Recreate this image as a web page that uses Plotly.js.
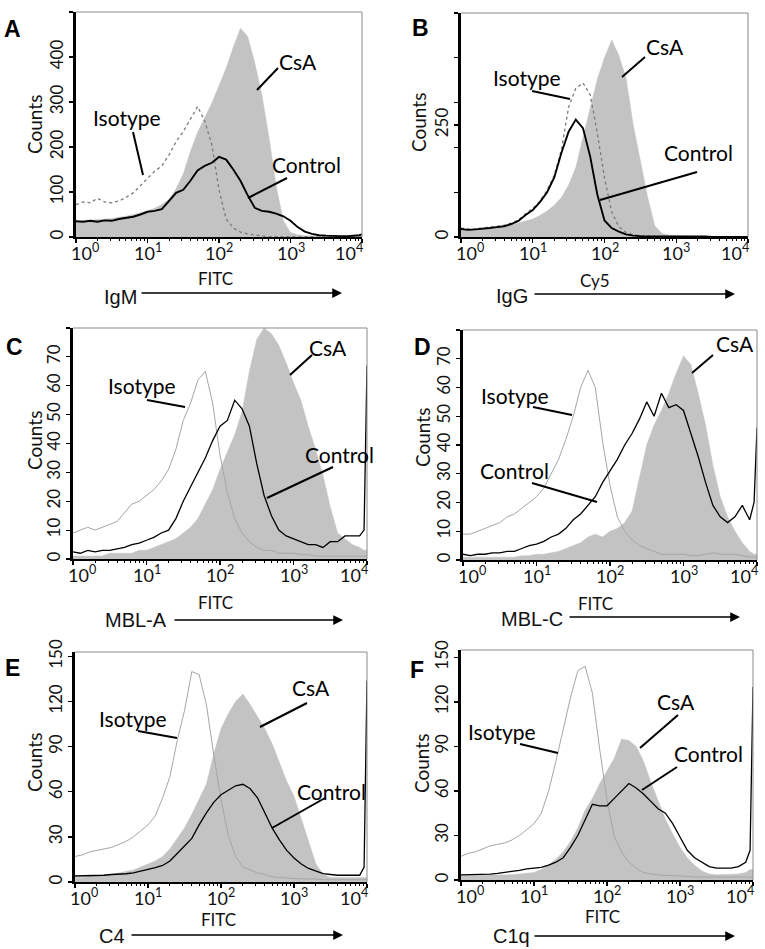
<!DOCTYPE html>
<html><head><meta charset="utf-8">
<script src="https://cdn.plot.ly/plotly-3.0.1.min.js"></script>
<style>html,body{margin:0;padding:0;background:#fff}#chart{width:765px;height:949px}</style>
</head><body><div id="chart"></div>
<script>
// log10 of fluorescence channel (x positions of histogram samples)
const channelLog = [0.0,0.1,0.2,0.3,0.4,0.5,0.6,0.7,0.8,0.9,1.0,1.1,1.2,1.3,1.4,1.5,1.6,1.7,1.8,1.9,2.0,2.1,2.2,2.3,2.4,2.5,2.6,2.7,2.8,2.9,3.0,3.1,3.2,3.3,3.4,3.5,3.6,3.7,3.8,3.9,3.96,4.0];

// Panel A  IgM (FITC)
const isoA  = [72,78,76,86,78,76,80,88,98,115,130,146,158,182,212,234,262,290,258,205,105,40,20,11,7,4,2,1,1,1,1,1,1,1,0,0,0,0,0,0,0,0];
const ctrlA = [35,34,36,34,37,36,40,42,45,50,56,58,62,80,98,105,125,148,158,165,178,172,150,125,93,65,58,56,52,46,36,22,12,7,4,3,2,2,2,3,4,6];
const csaA  = [35,36,37,38,40,41,44,46,50,54,58,64,72,83,107,140,190,232,264,298,336,375,422,464,446,387,315,220,113,36,10,5,3,2,2,1,1,1,1,1,1,1];
// Panel B  IgG (Cy5)
const isoB  = [20,18,18,20,22,24,26,31,38,52,64,80,104,138,195,290,332,344,318,232,132,56,23,10,5,3,2,2,1,1,1,1,1,1,1,1,1,1,1,1,1,1];
const ctrlB = [18,16,17,18,20,22,24,29,36,49,60,78,100,133,188,235,262,243,180,95,37,20,12,6,3,2,2,2,1,1,1,1,1,1,1,0,0,0,0,0,0,0];
const csaB  = [15,15,16,17,19,21,24,27,31,35,40,48,58,71,88,116,155,222,285,352,400,440,405,355,250,170,90,25,8,4,3,2,2,1,1,1,1,1,1,1,1,1];
// Panel C  MBL-A (FITC)
const isoC  = [9,10,11,10,11,12,13,16,19,20,22,24,27,31,38,48,54,62,65,54,36,23,14,9,6,4,3,3,2,2,2,1.5,1.5,1,1,1,1,1,1,1,1,1];
const ctrlC = [2.5,2,3,2.5,3,3,3.5,4,5,5.5,6.5,7.5,9,10,14,20,25,30,35,41,46,48,55,52,46,33,22,15,10,8,7,6,5,5,4,6,6,8,8,8,10,67];
const csaC  = [1,1,1,1,1,2,2,2,2,3,3,4,5,6,7,9,11,14,19,24,31,37,43,51,65,76,80,78,74,68,61,55,46,38,29,18,9,7,5,4,3,3];
// Panel D  MBL-C (FITC)
const isoD  = [9,9,10,11,12,13,15,16,18,20,22,25,30,35,42,50,60,66,60,41,26,15,10,7,5,4,3,2,2,2,2,1.5,1.5,2,2.5,2,2,2,1.5,1,1,1];
const ctrlD = [2,1.5,2,2,2.5,2.5,3,3,4,5,5.5,6.5,8,9,11,14,16,19,22,27,31,35,40,44,49,55,50,58,53,54,52,44,36,27,19,15,13,15,19,14,20,46];
const csaD  = [1,1,1,1,1,1,1,1,1.5,1.5,2,2,2.5,3,4,5,6,8,9,8,10,11,13,17,29,40,47,52,58,65,71,68,58,47,33,22,15,10,6,3,2,2];
// Panel E  C4 (FITC)
const isoE  = [17,18,20,21,22,23,25,27,30,34,38,44,56,70,94,114,140,138,118,85,55,31,17,10,8,6,5,3.5,3,2.5,2,2,2,2,1.5,1.5,1.5,1.5,1.5,1.5,1.5,1.5];
const ctrlE = [4,4,4,4.5,4.5,5,5,5.5,6,7,8,9.5,11,14,19,24,29,38,46,53,58,61,64,65,62,56,46,36,28,21,16,12,9,7,5.5,5,4.5,4.5,4.5,4.5,10,134];
const csaE  = [3,3,4,4,5,5,6,7,8,10,12,14,17,22,29,36,45,55,65,85,102,112,120,125,118,110,102,92,80,67,57,42,28,12,5,3,3,3,3,3,3,3];
// Panel F  C1q (FITC)
const isoF  = [16,18,19,21,23,24,25,27,30,34,38,45,60,80,101,123,141,144,126,88,54,29,19,12,8,5,4,3.5,3,3,2.5,2.5,2,2,2,2,2,2,2,2,2,2];
const ctrlF = [3.5,3.5,3.5,3.5,4,4.5,5,5.5,6.5,7.5,8,8.5,10,12,15,22,30,41,51,50,50,55,60,65,62,58,53,48,45,38,29,20,15,12,9,8,8,8,9,12,20,130];
const csaF  = [3,3,3,3,3.5,3.5,3.5,3.5,4,4.5,5,7,10,14,19,26,35,47,55,65,74,82,95,94,90,80,66,53,41,31,22,15,10,6,4,3.5,3.5,3.5,4,5,7,7];

const panelLetters = ['A','B','C','D','E','F'];
const markerNames  = ['IgM','IgG','MBL-A','MBL-C','C4','C1q'];
const channelNames = ['FITC','Cy5','FITC','FITC','FITC','FITC'];
const seriesNames  = ['Isotype','Control','CsA'];
const xTickVals = [1,10,100,1000,10000];
const xTickExp  = ['0','1','2','3','4'];
const yMax      = [500,500,80,80,153,155];
const yTicks    = [[0,100,200,300,400],[0,250,500],[0,10,20,30,40,50,60,70],[0,10,20,30,40,50,60,70],[0,30,60,90,120,150],[0,30,60,90,120,150]];
const yMinor    = [[500],[100,200,300,400],[80],[80],[],[]];

const isoSeries  = [isoA,isoB,isoC,isoD,isoE,isoF];
const ctrlSeries = [ctrlA,ctrlB,ctrlC,ctrlD,ctrlE,ctrlF];
const csaSeries  = [csaA,csaB,csaC,csaD,csaE,csaF];

// ---------- layout geometry (pixels in the 765x949 figure) ----------
const W = 765, H = 949;
const frames = [
  {x0:76,x1:362,y0:12,y1:237},{x0:461,x1:748,y0:13,y1:237},
  {x0:73,x1:367,y0:328,y1:559},{x0:463,x1:757,y0:330,y1:560},
  {x0:75,x1:367,y0:652,y1:882},{x0:461,x1:753,y0:650,y1:880}];
const tickLabelShift = [9,0,0,0,-13];
const letterPos  = [[12,29],[420,28],[14,347],[422,347],[13,668],[417,670]];
const countsPos  = [[35,125],[419,123],[34,441],[422,438],[34,763],[421,764]];
const chanPos    = [[215,278],[595,281],[215,602],[595,603],[218,919],[602,916]];
const markerPos  = [[120,297],[512,296],[136,620],[532,619],[112,936],[512,936]];
const arrowPos   = [[140,293,342],[533,294,735],[173,620,343],[568,617,740],[130,935,343],[533,936,735]];
// label centers and pointer segments: [Isotype, Control, CsA]
const labelPos = [
  [[127,117],[306,164],[298,62]],
  [[527,77],[698,152],[665,47]],
  [[142,386],[339,455],[328,348]],
  [[515,395],[514,471],[735,343]],
  [[133,718],[331,791],[311,687]],
  [[502,731],[708,753],[676,701]]];
const pointerSeg = [
  [[133,132,143,175],[287,178,248,198],[278,68,257,90]],
  [[532,91,570,99],[697,172,600,200],[645,57,622,77]],
  [[147,400,185,407],[333,467,267,498],[312,355,290,375]],
  [[533,407,572,415],[532,483,597,502],[713,355,692,373]],
  [[138,731,177,738],[325,798,272,828],[307,703,260,727]],
  [[520,744,558,753],[677,767,642,790],[678,715,640,748]]];

const px = v => v / W, py = v => 1 - v / H;
const xVals = channelLog.map(v => Math.pow(10, v));

const minorX = [];
for (let d = 0; d < 4; d++) for (let m = 2; m <= 9; m++) minorX.push(m * Math.pow(10, d));

const traces = [], annotations = [], shapes = [];
const layout = {
  width: W, height: H, margin: {l:0, r:0, t:0, b:0},
  paper_bgcolor: '#fff', plot_bgcolor: '#fff', showlegend: false,
  font: {family: 'Lato, "Open Sans", sans-serif', color: '#111'}
};

for (let i = 0; i < 6; i++) {
  const xa = i === 0 ? 'x' : 'x' + (i + 1);
  const ya = i === 0 ? 'y' : 'y' + (i + 1);
  const f = frames[i];
  const thickCtrl = i < 2 ? 1.9 : 1.3;
  traces.push({x: xVals, y: csaSeries[i], xaxis: xa, yaxis: ya, name: seriesNames[2], type: 'scatter', mode: 'lines',
    fill: 'tozeroy', fillcolor: '#c3c3c3', line: {color: '#c3c3c3', width: 0.5}, hoverinfo: 'skip'});
  traces.push({x: xVals, y: isoSeries[i], xaxis: xa, yaxis: ya, name: seriesNames[0], type: 'scatter', mode: 'lines',
    line: i < 2 ? {color: '#7a7a7a', width: 1.3, dash: 'dot'} : {color: '#a6a6a6', width: 1}, hoverinfo: 'skip'});
  traces.push({x: xVals, y: ctrlSeries[i], xaxis: xa, yaxis: ya, name: seriesNames[1], type: 'scatter', mode: 'lines',
    line: {color: '#000', width: thickCtrl}, hoverinfo: 'skip'});

  layout['xaxis' + (i === 0 ? '' : i + 1)] = {
    type: 'log', domain: [px(f.x0), px(f.x1)], range: [0, 4], anchor: ya,
    tickmode: 'array', tickvals: xTickVals, showticklabels: false,
    ticks: 'outside', ticklen: 4, tickwidth: 1.2, tickcolor: '#000',
    minor: {tickmode: 'array', tickvals: minorX, ticks: 'outside', ticklen: 2.5, tickcolor: '#000', tickwidth: 1},
    showline: true, linecolor: '#000', linewidth: 1.5, showgrid: false, zeroline: false, fixedrange: true
  };
  layout['yaxis' + (i === 0 ? '' : i + 1)] = {
    domain: [py(f.y1), py(f.y0)], range: [0, yMax[i]], anchor: xa,
    tickmode: 'array', tickvals: yTicks[i], ticktext: yTicks[i].map(String), tickangle: -90,
    ticks: 'outside', ticklen: 4, tickwidth: 1.2, tickcolor: '#000',
    minor: {tickmode: 'array', tickvals: yMinor[i], ticks: 'outside', ticklen: 4, tickcolor: '#000', tickwidth: 1.2},
    showline: true, linecolor: '#000', linewidth: 2.6, showgrid: false, zeroline: false,
    tickfont: {family: 'Lato, sans-serif', size: 17, color: '#111'}, fixedrange: true
  };

  // x tick labels (10^n), placed on the axis scale
  xTickVals.forEach((v, k) => {
    annotations.push({text: '10<sup>' + xTickExp[k] + '</sup>', xref: xa, yref: ya + ' domain',
      x: Math.log10(v), y: 0, xanchor: 'center', yanchor: 'top', yshift: -1, xshift: tickLabelShift[k],
      showarrow: false, font: {family: 'Lato, sans-serif', size: 18, color: '#111'}});
  });

  // gray top and right frame lines
  shapes.push({type: 'line', xref: 'paper', yref: 'paper', x0: px(f.x0), x1: px(f.x1), y0: py(f.y0), y1: py(f.y0), line: {color: '#8a8a8a', width: 1}});
  shapes.push({type: 'line', xref: 'paper', yref: 'paper', x0: px(f.x1), x1: px(f.x1), y0: py(f.y0), y1: py(f.y1), line: {color: '#8a8a8a', width: 1}});

  annotations.push({text: '<b>' + panelLetters[i] + '</b>', xref: 'paper', yref: 'paper', x: px(letterPos[i][0]), y: py(letterPos[i][1]),
    xanchor: 'center', yanchor: 'middle', showarrow: false, font: {family: '"Liberation Sans", Arial, sans-serif', size: 23, color: '#000'}});
  annotations.push({text: 'Counts', xref: 'paper', yref: 'paper', x: px(countsPos[i][0]), y: py(countsPos[i][1]), textangle: -90,
    xanchor: 'center', yanchor: 'middle', showarrow: false, font: {family: 'Lato, sans-serif', size: 19, color: '#111'}});
  annotations.push({text: channelNames[i], xref: 'paper', yref: 'paper', x: px(chanPos[i][0]), y: py(chanPos[i][1]),
    xanchor: 'center', yanchor: 'middle', showarrow: false, font: {family: 'Lato, sans-serif', size: 17, color: '#111'}});
  annotations.push({text: markerNames[i], xref: 'paper', yref: 'paper', x: px(markerPos[i][0]), y: py(markerPos[i][1]),
    xanchor: 'center', yanchor: 'middle', showarrow: false, font: {family: '"Liberation Sans", Arial, sans-serif', size: 20, color: '#111'}});
  const ap = arrowPos[i];
  annotations.push({text: '', xref: 'paper', yref: 'paper', axref: 'paper', ayref: 'paper',
    x: px(ap[2]), y: py(ap[1]), ax: px(ap[0]), ay: py(ap[1]), showarrow: true,
    arrowhead: 2, arrowsize: 1.3, arrowwidth: 1.5, arrowcolor: '#000'});
  for (let s = 0; s < 3; s++) {
    const lp = labelPos[i][s];
    annotations.push({text: seriesNames[s], xref: 'paper', yref: 'paper', x: px(lp[0]), y: py(lp[1]),
      xanchor: 'center', yanchor: 'middle', showarrow: false, font: {family: 'Lato, sans-serif', size: 21, color: '#000'}});
    const sg = pointerSeg[i][s];
    shapes.push({type: 'line', xref: 'paper', yref: 'paper', x0: px(sg[0]), y0: py(sg[1]), x1: px(sg[2]), y1: py(sg[3]),
      line: {color: '#000', width: 2}});
  }
}
layout.annotations = annotations;
layout.shapes = shapes;

Plotly.newPlot('chart', traces, layout, {displayModeBar: false, staticPlot: true});
</script>
</body></html>
